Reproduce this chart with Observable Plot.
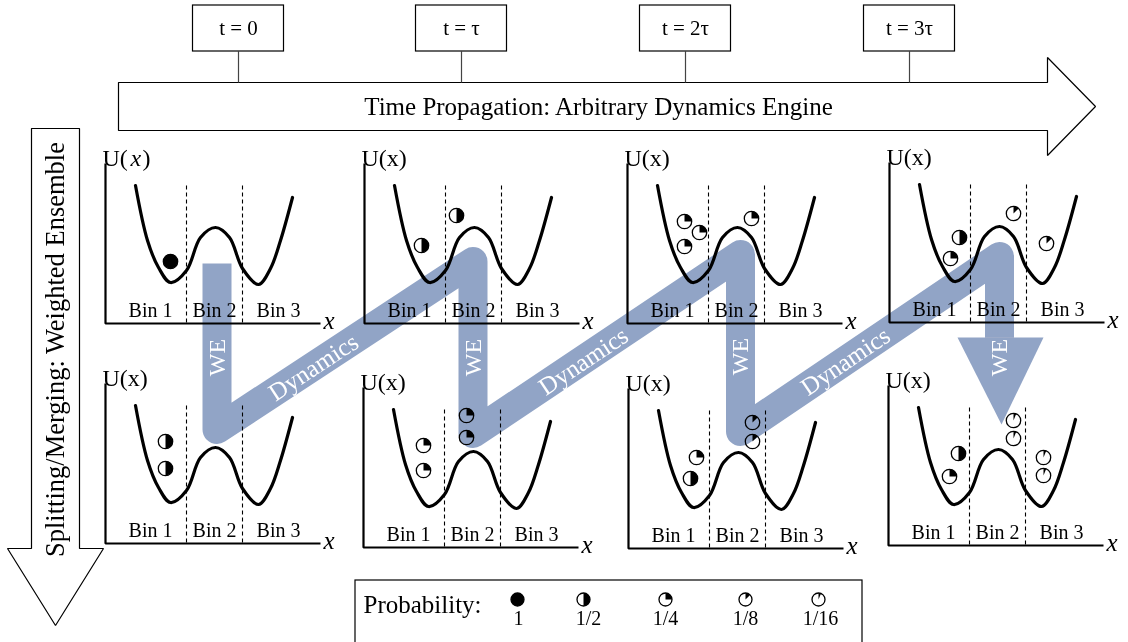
<!DOCTYPE html>
<html><head><meta charset="utf-8">
<script src="https://cdn.jsdelivr.net/npm/d3@7"></script>
<script src="https://cdn.jsdelivr.net/npm/@observablehq/plot@0.6"></script>
<style>body{margin:0;background:#fff} #chart svg{display:block}</style>
</head><body><div id="chart"></div>
<script>
const FONT = "Liberation Serif, Times New Roman, serif";
const BAND = "#91A4C6";

// ---- data ----
const timeLabels = ["t = 0", "t = τ", "t = 2τ", "t = 3τ"];
const timeX = [238, 461, 685, 909];
const topTitle = "Time Propagation: Arbitrary Dynamics Engine";
const sideTitle = "Splitting/Merging: Weighted Ensemble";
const binLabels = ["Bin 1", "Bin 2", "Bin 3"];
const binOffsets = [45, 109, 173];
const dividerOffsets = [81, 137];
const probLabels = ["1", "1/2", "1/4", "1/8", "1/16"];
const probValues = [1, 1/2, 1/4, 1/8, 1/16];
const probGlyphX = [517, 583, 665, 745, 818];
const probLabelX = [518, 588, 665, 745, 820];

// panel origins (axis corner)
const panelX = [105, 364, 627, 889, 105, 363, 628, 888];
const panelY = [323, 323, 323, 322, 543, 547, 548, 545];

// double-well potential control points (offset from panel origin, height above axis)
const wellX = [30, 42, 53, 65, 81, 95, 110, 124, 137, 153, 165, 175, 187];
const wellU = [138, 83, 56, 41, 53, 86, 96, 86, 55, 39, 55, 83, 126];

// walkers
const particleX = [170, 421, 456, 684, 699, 684, 751, 959, 950, 1013, 1046,
                   165, 165, 423, 423, 466, 466, 696, 690, 752, 752, 958, 949, 1013, 1013, 1043, 1043];
const particleY = [261, 245, 215, 221, 232, 246, 218, 237, 258, 213, 243,
                   441, 468, 445, 470, 415, 437, 457, 478, 422, 441, 453, 476, 420, 438, 457, 475];
const particleP = [1, 1/2, 1/2, 1/4, 1/4, 1/4, 1/4, 1/2, 1/4, 1/8, 1/8,
                   1/2, 1/2, 1/4, 1/4, 1/4, 1/4, 1/4, 1/2, 1/8, 1/8, 1/2, 1/4, 1/16, 1/16, 1/16, 1/16];

// WE / Dynamics band path
const bandX = [216.5, 216.5, 472.5, 472.5, 740, 740, 999, 999];
const bandY = [263, 429, 261, 433, 254, 431, 256, 337];
const headX = [957, 1043, 1001];
const headY = [337, 337, 424];
const weX = [216.5, 473, 740, 999];
const weY = [357, 357, 356, 357];
const dynX = [313, 583, 845];
const dynY = [367, 361, 361];

// outline arrows
const topArrowX = [118, 1047, 1047, 1095, 1047, 1047, 118, 118];
const topArrowY = [82, 82, 57, 106, 155, 130, 130, 82];
const sideArrowX = [31, 79, 79, 103, 55, 7, 31, 31];
const sideArrowY = [128, 128, 548, 548, 625, 548, 548, 128];

// ---- derived tables ----
const panels = panelX.map((x, i) => ({i, x, y: panelY[i]}));
const pts = (xs, ys) => xs.map((x, i) => ({x, y: ys[i]}));
const wellPts = panels.flatMap(p => wellX.map((dx, j) => ({panel: p.i, x: p.x + dx, y: p.y - wellU[j]})));
const axisPts = panels.flatMap(p => [
  {panel: p.i, x: p.x, y: p.y - 160}, {panel: p.i, x: p.x, y: p.y}, {panel: p.i, x: p.x + 215, y: p.y}]);
const dividers = panels.flatMap(p => dividerOffsets.map(d => ({x: p.x + d, y1: p.y - 138, y2: p.y})));
const binText = panels.flatMap(p => binLabels.map((b, j) => ({text: b, x: p.x + binOffsets[j], y: p.y - 13})));
const particles = particleX.map((x, i) => ({x, y: particleY[i], p: particleP[i]}));
const legend = probValues.map((p, i) => ({p, gx: probGlyphX[i], y: 599, lx: probLabelX[i], label: probLabels[i]}));
const times = timeLabels.map((t, i) => ({t, x: timeX[i]}));
const band = pts(bandX, bandY);
const head = pts(headX, headY);
const dynAngles = [0, 2, 4].map(k => Math.atan2(bandY[k + 2] - bandY[k + 1], bandX[k + 2] - bandX[k + 1]) * 180 / Math.PI);
const dyn = dynX.map((x, i) => ({x, y: dynY[i], a: dynAngles[i]}));

function pie(p) {
  return {draw(ctx, size) {
    const r = Math.sqrt(size / Math.PI), a0 = -Math.PI / 2;
    ctx.moveTo(0, 0); ctx.lineTo(0, -r);
    ctx.arc(0, 0, r, a0, a0 + 2 * Math.PI * p);
    ctx.closePath();
  }};
}
function walkerMarks(data, xk, r) {
  const out = [Plot.dot(data, {x: xk, y: "y", r, fill: "white", stroke: "black", strokeWidth: 1.3})];
  for (const p of probValues) {
    const sub = data.filter(d => d.p === p);
    if (sub.length) out.push(Plot.dot(sub, {x: xk, y: "y", r, fill: "black", stroke: "none", symbol: pie(p)}));
  }
  return out;
}

const txt = (data, o) => Plot.text(data, {fontFamily: FONT, fill: "black", ...o});

const chart = Plot.plot({
  width: 1128, height: 642,
  margin: 0,
  x: {domain: [0, 1128], range: [0, 1128], axis: null},
  y: {domain: [0, 642], range: [0, 642], axis: null},
  style: {background: "white"},
  marks: [
    // top time arrow
    Plot.line(pts(topArrowX, topArrowY), {x: "x", y: "y", fill: "white", stroke: "black", strokeWidth: 1.2, strokeLinejoin: "miter", curve: "linear"}),
    Plot.link(times, {x1: "x", x2: "x", y1: 51, y2: 82, stroke: "#444", strokeWidth: 1.2}),
    Plot.rect(times, {x1: d => d.x - 45.5, x2: d => d.x + 45.5, y1: 5, y2: 51, fill: "white", stroke: "black", strokeWidth: 1.2}),
    txt(times, {x: "x", y: 28, text: "t", fontSize: 21}),
    txt([topTitle], {x: 598, y: 106, text: d => d, fontSize: 25}),
    // side arrow
    Plot.line(pts(sideArrowX, sideArrowY), {x: "x", y: "y", fill: "white", stroke: "black", strokeWidth: 1.2, strokeLinejoin: "miter"}),
    txt([sideTitle], {x: 55, y: 349, text: d => d, fontSize: 26.5, rotate: -90}),
    // panels
    Plot.line(axisPts, {x: "x", y: "y", z: "panel", stroke: "black", strokeWidth: 2.2, strokeLinejoin: "miter", strokeLinecap: "butt"}),
    Plot.link(dividers, {x1: "x", x2: "x", y1: "y1", y2: "y2", stroke: "black", strokeWidth: 1.1, strokeDasharray: "4,3"}),
    Plot.line(wellPts, {x: "x", y: "y", z: "panel", stroke: "black", strokeWidth: 3.2, curve: "catmull-rom"}),
    txt(binText, {x: "x", y: "y", text: "text", fontSize: 20}),
    txt(panels.filter(p => p.i !== 0), {x: d => d.x - 3, y: d => d.y - 165, text: () => "U(x)", fontSize: 24, textAnchor: "start"}),
    txt(panels.filter(p => p.i === 0), {x: d => d.x - 3, y: d => d.y - 165, text: () => "U(", fontSize: 24, textAnchor: "start"}),
    txt(panels.filter(p => p.i === 0), {x: d => d.x + 25, y: d => d.y - 165, text: () => "x", fontSize: 24, fontStyle: "italic", textAnchor: "start"}),
    txt(panels.filter(p => p.i === 0), {x: d => d.x + 37, y: d => d.y - 165, text: () => ")", fontSize: 24, textAnchor: "start"}),
    txt(panels, {x: d => d.x + 218, y: d => d.y - 3, text: () => "x", fontSize: 25, fontStyle: "italic", textAnchor: "start"}),
    // walkers
    ...walkerMarks(particles, "x", 7.2),
    // WE / Dynamics band
    Plot.line(band, {x: "x", y: "y", stroke: BAND, strokeWidth: 29, strokeLinejoin: "round", strokeLinecap: "butt", mixBlendMode: "multiply"}),
    Plot.line(head, {x: "x", y: "y", fill: BAND, stroke: "none", mixBlendMode: "multiply"}),
    txt(weX.map((x, i) => ({x, y: weY[i]})), {x: "x", y: "y", text: () => "WE", fontSize: 24, fill: "white", rotate: -90}),
    txt(dyn, {x: "x", y: "y", text: () => "Dynamics", fontSize: 25, fill: "white", rotate: d => d.a}),
    // legend
    Plot.rect([0], {x1: 355, x2: 862, y1: 580, y2: 660, fill: "white", stroke: "black", strokeWidth: 1.2}),
    txt(["Probability:"], {x: 363, y: 604, text: d => d, fontSize: 25, textAnchor: "start"}),
    ...walkerMarks(legend, "gx", 6.5),
    txt(legend, {x: "lx", y: 618, text: "label", fontSize: 20})
  ]
});
document.getElementById("chart").appendChild(chart);
</script>
</body></html>
